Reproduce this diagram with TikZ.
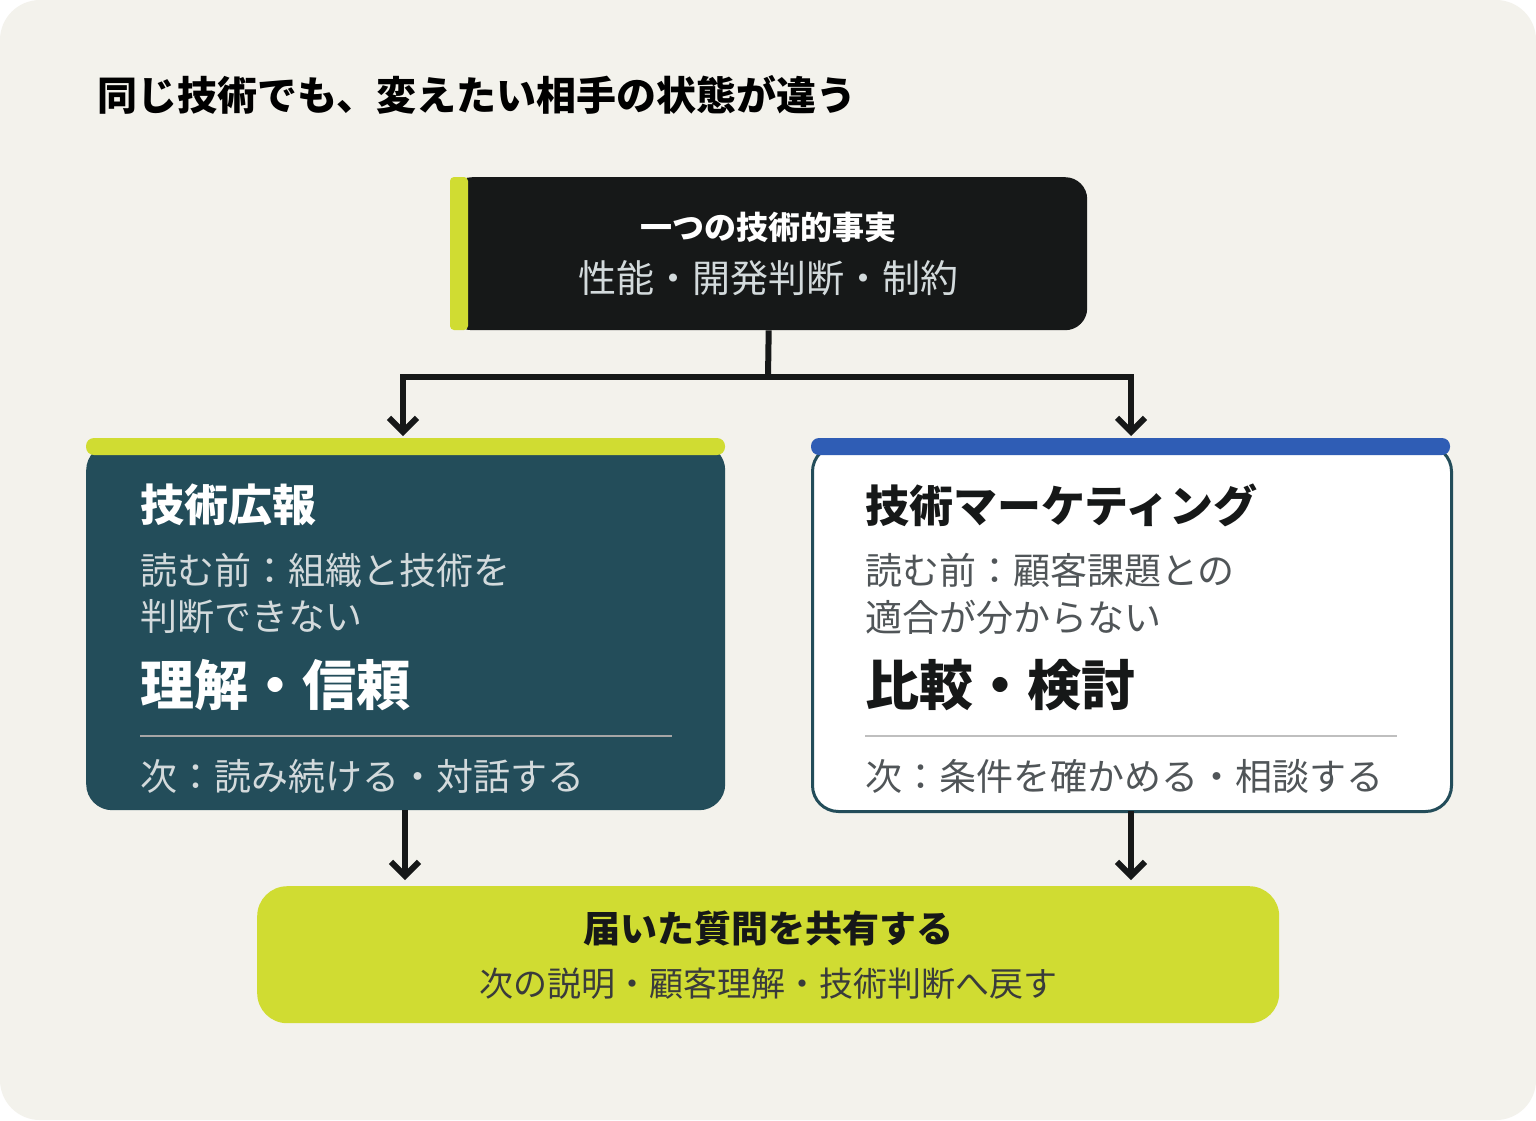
\documentclass[tikz,border=0pt]{standalone}
\usepackage{fontspec}
\setmainfont{Noto Sans CJK JP}
\usetikzlibrary{arrows.meta}
\definecolor{bg}{HTML}{F3F2EC}
\definecolor{ink}{HTML}{161818}
\definecolor{lime}{HTML}{D0DC32}
\definecolor{teal}{HTML}{234D5A}
\definecolor{blu}{HTML}{2F5DB5}
\definecolor{lgray}{HTML}{D3DADC}
\definecolor{dgray}{HTML}{505558}
\begin{document}
\begin{tikzpicture}[x=1pt,y=-1pt,
  conn/.style={line width=6pt,draw=ink},
  arr/.style={conn,-{Straight Barb[length=14pt,width=28pt,line width=6pt]}},
  txt/.style={anchor=west,inner sep=0pt},
  ctr/.style={anchor=center,inner sep=0pt}]
\useasboundingbox (0,0) rectangle (1536,1120);
\fill[white] (0,0) rectangle (1536,1120);
\fill[bg,rounded corners=40pt] (0,0) rectangle (1536,1120);
\node[txt,font=\fontsize{40}{46}\selectfont\bfseries] (title) at (97,95) {同じ技術でも、変えたい相手の状態が違う};
% top
\node[fill=ink,rounded corners=22pt,minimum width=637pt,minimum height=153pt,anchor=north west,inner sep=0pt] (top) at (450,177) {};
\fill[lime,rounded corners=4pt] (450,177) rectangle (468,330);
\node[ctr,text=white,font=\fontsize{32}{36}\selectfont\bfseries] (t1) at (768,227) {一つの技術的事実};
\node[ctr,text=lgray,font=\fontsize{38}{42}\selectfont] (t2) at (768,278) {性能・開発判断・制約};
\coordinate (j) at (768,377);
\coordinate (jl) at (403,377);
\coordinate (jr) at (1131,377);
\coordinate (al) at (403,436);
\coordinate (ar) at (1131,436);
\draw[conn] (top.south) -- (j);
\draw[conn] (jl) -- (jr);
\draw[arr] ([yshift=3pt]jl) -- (al);
\draw[arr] ([yshift=3pt]jr) -- (ar);
% left
\node[fill=teal,rounded corners=26pt,minimum width=639pt,minimum height=366pt,anchor=north west,inner sep=0pt] (L) at (86,444) {};
\fill[lime,rounded corners=8pt] (86,438) rectangle (725,455);
\node[txt,text=white,font=\fontsize{44}{48}\selectfont\bfseries] (l1) at (140,505) {技術広報};
\node[txt,text=lgray,font=\fontsize{37}{42}\selectfont] (l2) at (140,570) {読む前：組織と技術を};
\node[txt,text=lgray,font=\fontsize{37}{42}\selectfont] (l3) at (140,617) {判断できない};
\node[txt,text=white,font=\fontsize{54}{58}\selectfont\bfseries] (l4) at (140,685) {理解・信頼};
\draw[gray!70,line width=1.5pt] (140,736) -- (672,736);
\node[txt,text=lgray,font=\fontsize{37}{42}\selectfont] (l5) at (140,776) {次：読み続ける・対話する};
% right
\node[fill=white,draw=teal,line width=3pt,rounded corners=26pt,minimum width=639pt,minimum height=366pt,anchor=north west,inner sep=0pt] (R) at (811,444) {};
\fill[blu,rounded corners=8pt] (811,438) rectangle (1450,455);
\node[txt,text=ink,font=\fontsize{44}{48}\selectfont\bfseries] (r1) at (865,505) {技術マーケティング};
\node[txt,text=dgray,font=\fontsize{37}{42}\selectfont] (r2) at (865,570) {読む前：顧客課題との};
\node[txt,text=dgray,font=\fontsize{37}{42}\selectfont] (r3) at (865,617) {適合が分からない};
\node[txt,text=ink,font=\fontsize{54}{58}\selectfont\bfseries] (r4) at (865,685) {比較・検討};
\draw[gray!50,line width=1.5pt] (865,736) -- (1397,736);
\node[txt,text=dgray,font=\fontsize{37}{42}\selectfont] (r5) at (865,776) {次：条件を確かめる・相談する};
% bottom
\node[fill=lime,rounded corners=30pt,minimum width=1022pt,minimum height=137pt,anchor=north west,inner sep=0pt] (B) at (257,886) {};
\node[ctr,text=ink,font=\fontsize{37}{42}\selectfont\bfseries] (b1) at (768,928) {届いた質問を共有する};
\node[ctr,text=ink!85,font=\fontsize{34}{40}\selectfont] (b2) at (768,984) {次の説明・顧客理解・技術判断へ戻す};
\coordinate (bl) at (405,880);
\coordinate (br) at (1131,880);
\draw[arr] (405,810) -- (bl);
\draw[arr] (1131,811) -- (br);
\end{tikzpicture}
\end{document}
